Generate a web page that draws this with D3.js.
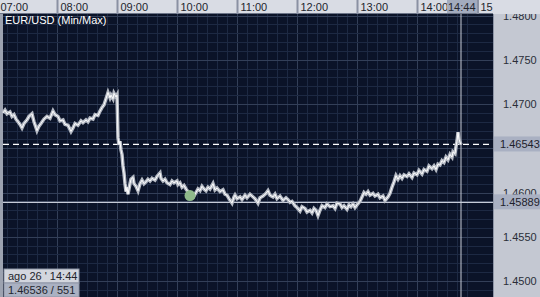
<!DOCTYPE html>
<html>
<head>
<meta charset="utf-8">
<script src="https://cdn.jsdelivr.net/npm/d3@7"></script>
<style>
  body { margin: 0; background: #c4c8d2; }
  svg { display: block; font-family: "Liberation Sans", Arial, sans-serif; }
</style>
</head>
<body>
<div id="chart"></div>
<script>
// EUR/USD intraday (min/max)
var times = [
  "07:06","07:08","07:10","07:13","07:15","07:17","07:19","07:21","07:23","07:25",
  "07:27","07:30","07:32","07:35","07:37","07:40","07:42","07:44","07:47","07:50",
  "07:53","07:56","07:58","08:01","08:03","08:06","08:08","08:11","08:14","08:16",
  "08:18","08:21","08:24","08:26","08:29","08:31","08:33","08:36","08:38","08:41",
  "08:43","08:45","08:47","08:49","08:51","08:53","08:54","08:56","08:57","08:59",
  "09:00","09:01","09:02","09:03","09:04","09:05","09:06","09:07","09:08","09:09",
  "09:10","09:11","09:13","09:14","09:16","09:17","09:19","09:21","09:23","09:25",
  "09:27","09:29","09:31","09:33","09:35","09:38","09:40","09:43","09:44","09:46",
  "09:48","09:50","09:53","09:55","09:57","10:00","10:01","10:03","10:05","10:07",
  "10:09","10:11","10:13","10:15","10:17","10:19","10:21","10:23","10:25","10:27",
  "10:29","10:31","10:33","10:36","10:38","10:40","10:43","10:46","10:48","10:50",
  "10:52","10:55","10:57","10:58","11:00","11:03","11:05","11:08","11:10","11:13",
  "11:15","11:18","11:21","11:23","11:26","11:29","11:31","11:33","11:36","11:38",
  "11:40","11:43","11:46","11:49","11:51","11:53","11:55","11:58","12:00","12:03",
  "12:05","12:08","12:10","12:13","12:15","12:17","12:19","12:21","12:23","12:25",
  "12:28","12:30","12:33","12:36","12:38","12:40","12:43","12:45","12:47","12:50",
  "12:52","12:54","12:56","12:58","13:00","13:03","13:05","13:07","13:09","13:11",
  "13:13","13:16","13:18","13:21","13:23","13:26","13:28","13:31","13:33","13:35",
  "13:37","13:39","13:41","13:43","13:45","13:47","13:50","13:52","13:55","13:57",
  "14:00","14:02","14:05","14:07","14:10","14:12","14:15","14:17","14:19","14:21",
  "14:23","14:25","14:27","14:29","14:31","14:33","14:35","14:36","14:38","14:39",
  "14:40","14:41","14:42","14:43","14:44"];
var prices = [
  1.4690,1.4693,1.4689,1.4691,1.4686,1.4688,1.4683,1.4680,1.4677,1.4673,
  1.4678,1.4682,1.4686,1.4689,1.4680,1.4670,1.4675,1.4678,1.4683,1.4686,
  1.4684,1.4692,1.4688,1.4686,1.4681,1.4682,1.4677,1.4676,1.4669,1.4673,
  1.4678,1.4676,1.4681,1.4679,1.4682,1.4680,1.4684,1.4683,1.4688,1.4687,
  1.4692,1.4696,1.4699,1.4706,1.4713,1.4707,1.4710,1.4706,1.4712,1.4708,
  1.4710,1.4662,1.4654,1.4658,1.4648,1.4643,1.4630,1.4622,1.4610,1.4601,
  1.4606,1.4598,1.4610,1.4615,1.4617,1.4610,1.4607,1.4602,1.4610,1.4614,
  1.4610,1.4612,1.4615,1.4613,1.4616,1.4614,1.4618,1.4622,1.4616,1.4613,
  1.4615,1.4611,1.4609,1.4613,1.4611,1.4613,1.4609,1.4611,1.4606,1.4608,
  1.4604,1.4601,1.4597,1.4599,1.4596,1.4600,1.4604,1.4602,1.4607,1.4604,
  1.4602,1.4606,1.4604,1.4610,1.4603,1.4605,1.4601,1.4603,1.4598,1.4597,
  1.4593,1.4588,1.4595,1.4597,1.4593,1.4595,1.4592,1.4597,1.4594,1.4598,
  1.4596,1.4593,1.4588,1.4594,1.4596,1.4599,1.4602,1.4597,1.4595,1.4598,
  1.4593,1.4596,1.4591,1.4594,1.4592,1.4589,1.4590,1.4585,1.4583,1.4579,
  1.4584,1.4582,1.4578,1.4580,1.4577,1.4582,1.4580,1.4574,1.4580,1.4585,
  1.4583,1.4587,1.4584,1.4585,1.4582,1.4588,1.4587,1.4583,1.4585,1.4581,
  1.4586,1.4584,1.4587,1.4583,1.4586,1.4590,1.4595,1.4600,1.4598,1.4601,
  1.4597,1.4599,1.4596,1.4598,1.4594,1.4596,1.4591,1.4595,1.4599,1.4606,
  1.4612,1.4619,1.4615,1.4619,1.4616,1.4620,1.4618,1.4621,1.4617,1.4622,
  1.4620,1.4625,1.4621,1.4626,1.4624,1.4630,1.4627,1.4630,1.4626,1.4632,
  1.4631,1.4636,1.4634,1.4640,1.4637,1.4643,1.4640,1.4646,1.4644,1.4652,
  1.4658,1.4668,1.4660,1.4657,1.4654];
var hourLabels = ["07:00","08:00","09:00","10:00","11:00","12:00","13:00","14:00","15"];
var priceTicks = [1.4500, 1.4550, 1.4600, 1.4700, 1.4750, 1.4800];
var lastPrice = 1.46543;
var lowLine = 1.45889;
var lowPoint = {time: "10:13", price: 1.45965};
var cursorTime = "14:44";
var infoDate = "ago 26 ' 14:44";
var infoValue = "1.46536 / 551";

function toMin(s) { var p = s.split(":"); return +p[0] * 60 + (+(p[1] || 0)); }

var data = times.map(function(t, i) { return {m: toMin(t), v: prices[i]}; });

var width = 540, height = 297;
var plotLeft = 3, plotRight = 493, plotTop = 14;

var svg = d3.select("#chart").append("svg")
  .attr("width", width).attr("height", height);

var x = d3.scaleLinear().domain([480, 900]).range([57, 477]);
var y = d3.scaleLinear().domain([1.45, 1.48]).range([281, 15.5]);

// plot background
svg.append("rect").attr("x", 0).attr("y", 0).attr("width", plotRight).attr("height", height)
  .attr("fill", "#0b1328");

// grid (10 min / 0.001)
var minorX = d3.range(420, 900, 10);
var minorY = d3.range(1448, 1481).map(function(v) { return v / 1000; });
var grid = svg.append("g");
grid.selectAll(".vx").data(minorX).enter().append("line")
  .attr("x1", function(d) { return x(d); }).attr("x2", function(d) { return x(d); })
  .attr("y1", plotTop).attr("y2", height)
  .attr("stroke", function(d) { return d % 60 == 0 ? "#333f58" : "#1d2943"; })
  .attr("stroke-width", 1).attr("shape-rendering", "crispEdges");
grid.selectAll(".hy").data(minorY).enter().append("line")
  .attr("x1", plotLeft).attr("x2", plotRight)
  .attr("y1", function(d) { return Math.round(y(d)); }).attr("y2", function(d) { return Math.round(y(d)); })
  .attr("stroke", function(d) { return Math.round(d * 1000) % 5 == 0 ? "#333f58" : "#1d2943"; })
  .attr("stroke-width", 1).attr("shape-rendering", "crispEdges");

// left strip
svg.append("rect").attr("x", 0).attr("y", plotTop).attr("width", 3).attr("height", height - plotTop)
  .attr("fill", "#9ca2b0");

// cursor line at 14:44
svg.append("line")
  .attr("x1", x(toMin(cursorTime))).attr("x2", x(toMin(cursorTime)))
  .attr("y1", plotTop).attr("y2", height)
  .attr("stroke", "#c8ccd6").attr("stroke-width", 1);

// low line and last price dashed line
svg.append("line").attr("x1", plotLeft).attr("x2", plotRight)
  .attr("y1", y(lowLine)).attr("y2", y(lowLine))
  .attr("stroke", "#c6cbd8").attr("stroke-width", 1.2);
svg.append("line").attr("x1", plotLeft).attr("x2", plotRight)
  .attr("y1", y(lastPrice)).attr("y2", y(lastPrice))
  .attr("stroke", "#ffffff").attr("stroke-width", 1.2).attr("stroke-dasharray", "6,4");

// price line: grey min/max band with white core
var line = d3.line().x(function(d) { return x(d.m); }).y(function(d) { return y(d.v); });
svg.append("path").datum(data).attr("d", line)
  .attr("fill", "none").attr("stroke", "#b4b9c3").attr("stroke-width", 3.5)
  .attr("stroke-linejoin", "miter");
svg.append("path").datum(data).attr("d", line)
  .attr("fill", "none").attr("stroke", "#ffffff").attr("stroke-width", 1)
  .attr("stroke-linejoin", "miter");

// lowest point marker
svg.append("circle")
  .attr("cx", x(toMin(lowPoint.time))).attr("cy", y(lowPoint.price)).attr("r", 5.5)
  .attr("fill", "#8fb98a");

// title
svg.append("text").attr("x", 5).attr("y", 24).attr("fill", "#ffffff")
  .attr("font-size", 11).text("EUR/USD (Min/Max)");

// right price axis panel
svg.append("rect").attr("x", plotRight).attr("y", 0).attr("width", width - plotRight).attr("height", height)
  .attr("fill", "#c4c8d2");
svg.append("line").attr("x1", plotRight + 0.5).attr("x2", plotRight + 0.5).attr("y1", plotTop).attr("y2", height)
  .attr("stroke", "#8e95a6");

var yAxis = svg.append("g").attr("transform", "translate(" + plotRight + ",0)")
  .call(d3.axisRight(y).tickValues(priceTicks).tickFormat(d3.format(".4f")).tickSize(0).tickPadding(10));
yAxis.select(".domain").remove();
yAxis.selectAll("text").attr("fill", "#2a2e38").attr("font-size", 11)
  .attr("font-family", "Liberation Sans, Arial, sans-serif");

// highlighted price labels
[lastPrice, lowLine].forEach(function(p) {
  var g = svg.append("g").attr("transform", "translate(" + plotRight + "," + y(p) + ")");
  g.append("rect").attr("x", 1).attr("y", -8).attr("width", width - plotRight).attr("height", 15)
    .attr("fill", "#a9b0c2");
  g.append("text").attr("x", 7).attr("y", 4).attr("fill", "#1e222c").attr("font-size", 11)
    .text(d3.format(".5f")(p));
});

// top time axis bar
svg.append("rect").attr("x", 0).attr("y", 0).attr("width", width).attr("height", plotTop)
  .attr("fill", "#d9dce4");
svg.append("line").attr("x1", 0).attr("x2", plotRight).attr("y1", plotTop - 0.5).attr("y2", plotTop - 0.5)
  .attr("stroke", "#6c7487");
var hourMins = hourLabels.map(function(h) { return h.indexOf(":") < 0 ? toMin(h + ":00") : toMin(h); });
var xAxis = svg.append("g")
  .call(d3.axisBottom(x).tickValues(hourMins).tickSize(plotTop)
    .tickFormat(function(d, i) { return hourLabels[i]; }));
xAxis.select(".domain").remove();
xAxis.selectAll(".tick line").attr("stroke", "#8a91a3").attr("stroke-width", 2);
xAxis.selectAll(".tick text").attr("text-anchor", "start").attr("x", 3).attr("y", 2)
  .attr("dy", "0.85em").attr("fill", "#22252d").attr("font-size", 11)
  .attr("font-family", "Liberation Sans, Arial, sans-serif");

// cursor time box
var cx = x(toMin(cursorTime));
svg.append("rect").attr("x", cx - 14).attr("y", 0).attr("width", 30).attr("height", plotTop - 1)
  .attr("fill", "#a3abbe");
svg.append("text").attr("x", cx - 13).attr("y", 11).attr("fill", "#22252d").attr("font-size", 11)
  .text(cursorTime);
svg.append("rect").attr("x", x(900)).attr("y", 0).attr("width", 2).attr("height", plotTop)
  .attr("fill", "#8a91a3");

// info box bottom-left
svg.append("rect").attr("x", 4).attr("y", 269).attr("width", 75).attr("height", 14)
  .attr("fill", "#d3d6de").attr("stroke", "#8e95a6");
svg.append("text").attr("x", 8).attr("y", 280).attr("fill", "#22252d").attr("font-size", 11)
  .text(infoDate);
svg.append("rect").attr("x", 4).attr("y", 283).attr("width", 75).attr("height", 14)
  .attr("fill", "#aab1c2").attr("stroke", "#8e95a6");
svg.append("text").attr("x", 8).attr("y", 294).attr("fill", "#22252d").attr("font-size", 11)
  .text(infoValue);
</script>
</body>
</html>
